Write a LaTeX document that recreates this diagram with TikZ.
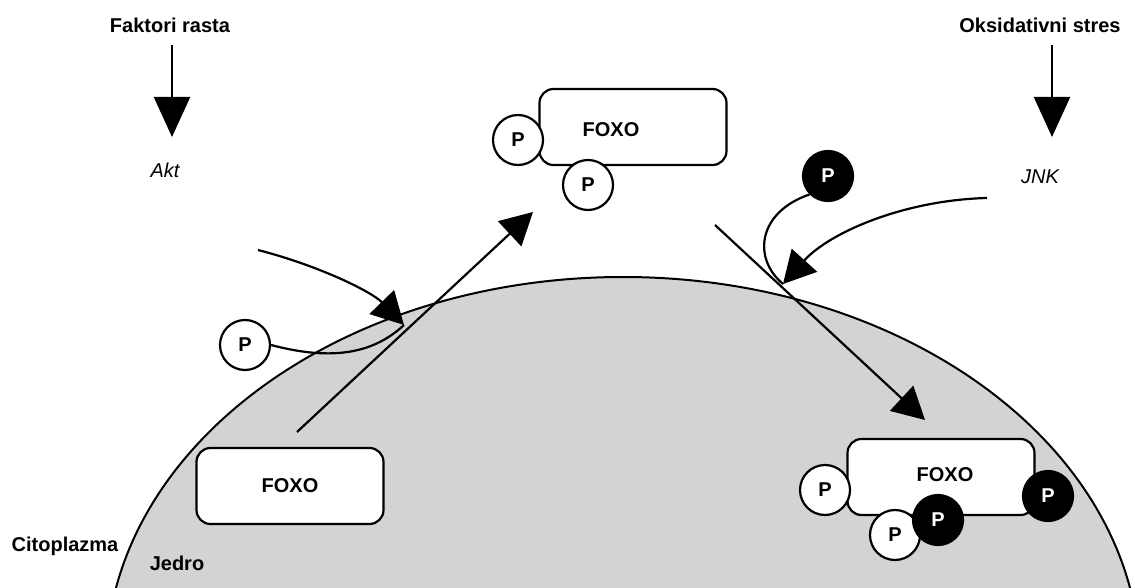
\documentclass[tikz,border=0pt]{standalone}
\usepackage{fontspec}
\setmainfont{Liberation Sans}
\usetikzlibrary{arrows.meta}

\begin{document}
\begin{tikzpicture}[x=1pt,y=-1pt]
        \tikzstyle{every node}=[font=\fontsize{20}{24}\selectfont\bfseries, text=black, inner sep=2pt]
        \tikzstyle{box}=[draw=black, line width=2.2pt, fill=white, rounded corners=14pt, minimum width=187pt, minimum height=76pt]
        \tikzstyle{pw}=[circle, draw=black, line width=2.2pt, fill=white, minimum size=50pt, inner sep=0pt]
        \tikzstyle{pb}=[pw, fill=black, text=white]
        \tikzstyle{link}=[line width=2.2pt]
        \tikzstyle{big}=[link, -{Triangle[length=40pt, width=36pt]}]
        \tikzstyle{mid}=[link, -{Triangle[length=32pt, width=34pt]}]
        \definecolor{nucleus}{RGB}{211,211,211}

        \useasboundingbox (0,0) rectangle (1135,588);
        \begin{scope}
            \clip (0,0) rectangle (1135,588);
            \draw[fill=nucleus, line width=2pt] (623,664) ellipse [x radius=517, y radius=387];
        \end{scope}

        \node (fr)  at (170,25)  {Faktori rasta};
        \node (os)  at (1040,25) {Oksidativni stres};
        \node[font=\fontsize{20}{24}\selectfont\itshape] (akt) at (165,170) {Akt};
        \node[font=\fontsize{20}{24}\selectfont\itshape] (jnk) at (1040,177) {JNK};
        \node (cit) at (65,546)  {Citoplazma};
        \node (jed) at (177,563) {Jedro};

        \coordinate (frA) at (172,45);
        \coordinate (frB) at (172,137);
        \coordinate (osA) at (1052,45);
        \coordinate (osB) at (1052,137);
        \draw[big] (frA) -- (frB);
        \draw[big] (osA) -- (osB);

        % export
        \coordinate (aktA) at (258,250);
        \coordinate (aktB) at (404,325);
        \coordinate (expA) at (297,432);
        \coordinate (expB) at (533,212);
        \node[pw] (p1) at (245,345) {P};
        \draw[mid] (aktA) .. controls (320,266) and (372,292) .. (aktB);
        \draw[link] (p1.east) .. controls (335,362) and (375,352) .. (aktB);
        \draw[mid] (expA) -- (expB);

        % import
        \coordinate (jnkA) at (987,198);
        \coordinate (jnkB) at (783,284);
        \coordinate (impA) at (715,225);
        \coordinate (impB) at (925,420);
        \node[pb] (p4) at (828,176) {P};
        \draw[link] (p4.south west) .. controls (758,212) and (752,258) .. (jnkB);
        \draw[mid] (jnkA) .. controls (905,200) and (830,232) .. (jnkB);
        \draw[mid] (impA) -- (impB);

        % FOXO
        \node[box, label={[xshift=-22pt, yshift=-3pt]center:FOXO}] (foxoA) at (633,127) {};
        \node[pw] (p2) at (518,140) {P};
        \node[pw] (p3) at (588,185) {P};

        \node[box] (foxoB) at (290,486) {FOXO};

        \node[box, label={[xshift=4pt, yshift=2pt]center:FOXO}] (foxoC) at (941,477) {};
        \node[pw] (p5) at (825,490) {P};
        \node[pw] (p6) at (895,535) {P};
        \node[pb] (p7) at (938,520) {P};
        \node[pb] (p8) at (1048,496) {P};
\end{tikzpicture}
\end{document}
